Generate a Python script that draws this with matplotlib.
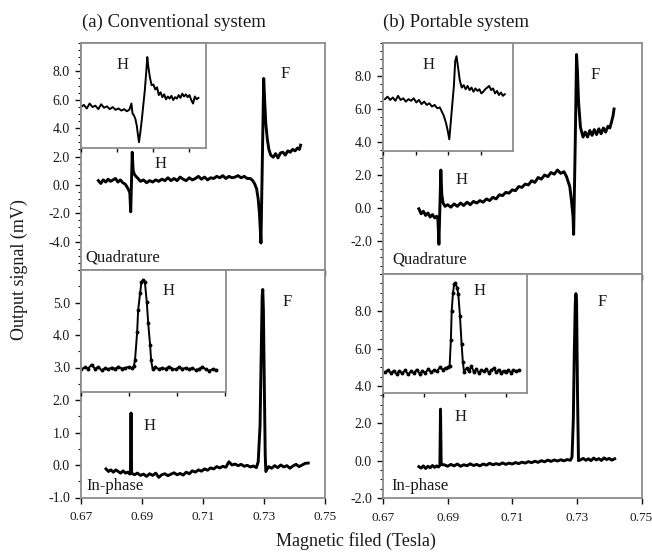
import matplotlib
matplotlib.use("Agg")
import matplotlib.pyplot as plt
from matplotlib.ticker import MultipleLocator, FormatStrFormatter

plt.rcParams['font.family'] = ['Liberation Serif', 'DejaVu Serif']

# ---------------- data ----------------
# (a) conventional, quadrature (main)
qa_x = [0.6757, 0.6765, 0.6773, 0.6781, 0.6789, 0.6797, 0.6805, 0.6813, 0.6821, 0.6829, 0.6837, 0.6845, 0.6851, 0.6856, 0.6860,
        0.6863, 0.6868, 0.6871, 0.6875, 0.6880, 0.6887,
        0.6895, 0.6905, 0.6915, 0.6925, 0.6935, 0.6945, 0.6955, 0.6965, 0.6975, 0.6985, 0.6995, 0.7005, 0.7015, 0.7025, 0.7035,
        0.7045, 0.7055, 0.7065, 0.7075, 0.7085, 0.7095, 0.7105, 0.7115, 0.7125, 0.7135, 0.7145, 0.7155, 0.7165, 0.7175, 0.7185,
        0.7195, 0.7205, 0.7215, 0.7225, 0.7235, 0.7245, 0.7255,
        0.7263, 0.7270, 0.7276, 0.7281, 0.7285, 0.7288, 0.7290, 0.7294, 0.7299, 0.7302, 0.7306, 0.7311, 0.7316, 0.7322,
        0.7330, 0.7338, 0.7346, 0.7354, 0.7362, 0.7370, 0.7378, 0.7386, 0.7394, 0.7402, 0.7410, 0.7416, 0.7420]
qa_y = [0.30, 0.10, 0.35, 0.20, 0.40, 0.25, 0.35, 0.45, 0.20, 0.35, 0.15, 0.05, -0.15, -0.35, -0.55,
        -1.90, 2.30, 1.00, 0.75, 0.60, 0.45,
        0.25, 0.35, 0.15, 0.30, 0.20, 0.35, 0.25, 0.40, 0.30, 0.50, 0.30, 0.45, 0.30, 0.55, 0.40,
        0.30, 0.50, 0.35, 0.45, 0.60, 0.40, 0.55, 0.35, 0.50, 0.45, 0.60, 0.50, 0.65, 0.45, 0.60,
        0.50, 0.55, 0.65, 0.50, 0.60, 0.45, 0.45,
        0.30, 0.05, -0.30, -1.00, -2.00, -3.20, -4.10, 1.00, 7.50, 6.00, 4.30, 3.20, 2.50, 2.10,
        1.95, 2.20, 1.90, 2.25, 2.30, 2.10, 2.40, 2.30, 2.50, 2.40, 2.60, 2.50, 2.80]

# (a) quadrature inset (H line, local field scale)
qa_in_x = [0.0, 0.08, 0.16, 0.24, 0.32, 0.40, 0.48, 0.56, 0.64, 0.72, 0.80, 0.88, 0.96, 1.04, 1.12, 1.20, 1.27, 1.34, 1.40, 1.43,
           1.47, 1.51, 1.55, 1.58, 1.61, 1.65, 1.69, 1.73, 1.77, 1.81, 1.84, 1.87, 1.91, 1.96, 2.01, 2.06, 2.11, 2.16, 2.21, 2.26,
           2.31, 2.36, 2.41, 2.46, 2.51, 2.56, 2.61, 2.66, 2.71, 2.76, 2.81, 2.86, 2.91, 2.96, 3.01, 3.06, 3.11, 3.16, 3.21, 3.26]
qa_in_y = [5.45, 5.60, 5.35, 5.70, 5.45, 5.55, 5.30, 5.65, 5.40, 5.50, 5.30, 5.45, 5.25, 5.35, 5.20, 5.30, 5.15, 5.25, 5.70, 5.00,
           4.85, 4.60, 4.10, 3.50, 2.95, 3.70, 4.60, 5.60, 6.60, 7.90, 9.00, 8.30, 7.60, 7.00, 7.05, 6.70, 6.85, 6.30, 6.50, 6.15,
           6.35, 6.00, 6.20, 6.05, 6.25, 5.95, 6.15, 6.05, 6.30, 6.10, 6.40, 6.20, 6.35, 6.15, 6.30, 5.95, 5.70, 6.20, 6.00, 6.10]

# (a) conventional, in-phase (main)
ia_x = [0.6782, 0.6790, 0.6798, 0.6806, 0.6814, 0.6822, 0.6830, 0.6838, 0.6846, 0.6854, 0.6860,
        0.6862, 0.6864, 0.6866,
        0.6875, 0.6885, 0.6895, 0.6905, 0.6915, 0.6925, 0.6935, 0.6945, 0.6955, 0.6965, 0.6975, 0.6985, 0.6995, 0.7005,
        0.7015, 0.7025, 0.7035, 0.7045, 0.7055, 0.7065, 0.7075, 0.7085, 0.7095, 0.7105, 0.7115, 0.7125, 0.7135, 0.7145,
        0.7155, 0.7165, 0.7175, 0.7185, 0.7195, 0.7205, 0.7215, 0.7225, 0.7235, 0.7245, 0.7255, 0.7265, 0.7275,
        0.7281, 0.7287, 0.7291, 0.7294, 0.7296, 0.7298, 0.7301, 0.7304, 0.7306,
        0.7315, 0.7325, 0.7335, 0.7345, 0.7355, 0.7365, 0.7375, 0.7385, 0.7395, 0.7405, 0.7415, 0.7425, 0.7435, 0.7445]
ia_y = [-0.12, -0.20, -0.15, -0.22, -0.15, -0.20, -0.25, -0.18, -0.25, -0.22, -0.28,
        -0.20, 1.60, -0.25,
        -0.30, -0.25, -0.32, -0.28, -0.35, -0.27, -0.32, -0.25, -0.38, -0.30, -0.27, -0.33, -0.28, -0.24,
        -0.30, -0.26, -0.31, -0.22, -0.27, -0.18, -0.22, -0.15, -0.19, -0.12, -0.16, -0.09, -0.12, -0.05,
        -0.09, -0.04, -0.07, 0.10, 0.00, 0.03, -0.02, 0.02, -0.04, -0.01, -0.06, -0.03, -0.08,
        0.10, 1.20, 3.50, 5.20, 5.40, 4.80, 2.50, 0.30, -0.20,
        -0.05, -0.10, -0.02, -0.08, 0.00, -0.06, -0.02, -0.10, -0.03, 0.02, -0.05, 0.00, 0.05, 0.06]

# (a) in-phase inset
ia_in_x = [0.01, 0.08, 0.15, 0.22, 0.29, 0.36, 0.43, 0.50, 0.57, 0.64, 0.71, 0.78, 0.85, 0.92, 0.99, 1.06, 1.10, 1.125,
           1.17, 1.19, 1.23, 1.26, 1.30, 1.33, 1.37, 1.40, 1.44, 1.46, 1.49, 1.55, 1.62, 1.69, 1.76, 1.83, 1.90, 1.97,
           2.04, 2.11, 2.18, 2.25, 2.32, 2.39, 2.46, 2.53, 2.60, 2.67, 2.74, 2.81]
ia_in_y = [2.95, 3.02, 2.98, 3.10, 2.97, 3.03, 2.92, 2.99, 2.96, 3.01, 2.97, 3.04, 2.98, 3.00, 3.03, 2.99, 3.05, 3.24,
           4.12, 4.79, 5.31, 5.67, 5.72, 5.67, 5.05, 4.38, 3.70, 3.24, 2.98, 3.02, 2.96, 3.00, 2.97, 3.04, 2.98, 2.95,
           3.02, 2.97, 3.00, 2.96, 2.99, 2.93, 2.97, 3.03, 2.95, 2.91, 2.96, 2.94]

# (b) portable, quadrature (main)
qb_x = [0.6811, 0.6818, 0.6825, 0.6832, 0.6839, 0.6846, 0.6853, 0.6860, 0.6866, 0.6870,
        0.6873, 0.6876, 0.6879, 0.6882, 0.6886, 0.6892,
        0.6900, 0.6910, 0.6920, 0.6930, 0.6940, 0.6950, 0.6960, 0.6970, 0.6980, 0.6990, 0.7000, 0.7010, 0.7020,
        0.7030, 0.7040, 0.7050, 0.7060, 0.7070, 0.7080, 0.7090, 0.7100, 0.7110, 0.7120, 0.7130, 0.7140, 0.7150,
        0.7160, 0.7170, 0.7180, 0.7190, 0.7200, 0.7210, 0.7220, 0.7230, 0.7240, 0.7250, 0.7260,
        0.7268, 0.7278, 0.7283, 0.7288, 0.7290, 0.7295, 0.7299, 0.7302, 0.7305, 0.7311, 0.7319,
        0.7326, 0.7333, 0.7340, 0.7347, 0.7354, 0.7361, 0.7368, 0.7375, 0.7382, 0.7389, 0.7396, 0.7402, 0.7407,
        0.7412, 0.7415]
qb_y = [-0.05, -0.35, -0.20, -0.45, -0.30, -0.55, -0.40, -0.60, -0.50, -0.70,
        -2.20, 0.00, 2.30, 0.80, 0.30, 0.10,
        0.20, 0.05, 0.25, 0.10, 0.30, 0.15, 0.35, 0.20, 0.40, 0.30, 0.45, 0.35, 0.55,
        0.45, 0.65, 0.55, 0.80, 0.75, 0.95, 0.90, 1.10, 1.05, 1.30, 1.25, 1.45, 1.40,
        1.65, 1.55, 1.85, 1.75, 2.00, 1.90, 2.15, 2.05, 2.30, 2.10, 2.20,
        1.90, 1.30, 0.50, -0.50, -1.60, 4.00, 9.30, 8.20, 6.50, 4.90, 4.30,
        4.60, 4.30, 4.70, 4.40, 4.75, 4.45, 4.80, 4.50, 4.85, 4.60, 4.95, 4.85, 5.20,
        5.60, 6.00]

# (b) quadrature inset
qb_in_x = [0.06, 0.14, 0.22, 0.30, 0.38, 0.46, 0.54, 0.62, 0.70, 0.78, 0.86, 0.94, 1.02, 1.10, 1.18, 1.26, 1.34, 1.42,
           1.50, 1.58, 1.66, 1.74, 1.80, 1.86, 1.93, 1.98, 2.03, 2.10, 2.17, 2.21, 2.25, 2.30, 2.35, 2.41, 2.47, 2.53,
           2.59, 2.65, 2.71, 2.77, 2.83, 2.89, 2.95, 3.01, 3.07, 3.13, 3.19, 3.25, 3.31, 3.37, 3.43, 3.49, 3.55, 3.61,
           3.67, 3.73]
qb_in_y = [6.60, 6.75, 6.55, 6.70, 6.50, 6.80, 6.55, 6.65, 6.45, 6.60, 6.50, 6.65, 6.40, 6.55, 6.30, 6.45, 6.25, 6.35,
           6.15, 6.25, 6.05, 6.10, 5.85, 5.60, 5.15, 4.70, 4.17, 5.80, 7.40, 8.90, 9.20, 8.50, 7.75, 7.30, 7.45, 7.20,
           7.40, 7.15, 7.30, 7.05, 7.25, 7.10, 7.20, 6.95, 7.05, 7.20, 7.30, 7.40, 7.15, 7.25, 6.95, 7.10, 6.85, 7.00,
           6.80, 6.90]

# (b) portable, in-phase (main)
ib_x = [0.6811, 0.6818, 0.6825, 0.6832, 0.6839, 0.6846, 0.6853, 0.6860, 0.6866, 0.6872,
        0.6876, 0.6878, 0.6880, 0.6883,
        0.6890, 0.6900, 0.6910, 0.6920, 0.6930, 0.6940, 0.6950, 0.6960, 0.6970, 0.6980, 0.6990, 0.7000, 0.7010,
        0.7020, 0.7030, 0.7040, 0.7050, 0.7060, 0.7070, 0.7080, 0.7090, 0.7100, 0.7110, 0.7120, 0.7130, 0.7140,
        0.7150, 0.7160, 0.7170, 0.7180, 0.7190, 0.7200, 0.7210, 0.7220, 0.7230, 0.7240, 0.7250, 0.7260, 0.7270,
        0.7280,
        0.7285, 0.7289, 0.7292, 0.7295, 0.7297, 0.7299, 0.7302, 0.7305,
        0.7312, 0.7320, 0.7328, 0.7336, 0.7344, 0.7352, 0.7360, 0.7368, 0.7376, 0.7384, 0.7392, 0.7400, 0.7408, 0.7417]
ib_y = [-0.32, -0.40, -0.28, -0.42, -0.30, -0.38, -0.26, -0.36, -0.28, -0.34,
        -0.25, 2.76, -0.10, -0.22,
        -0.22, -0.30, -0.20, -0.28, -0.18, -0.30, -0.22, -0.27, -0.17, -0.26, -0.20, -0.28, -0.18,
        -0.24, -0.14, -0.22, -0.16, -0.21, -0.12, -0.20, -0.13, -0.18, -0.10, -0.16, -0.08, -0.13,
        -0.05, -0.11, -0.03, -0.09, 0.00, -0.06, 0.03, -0.04, 0.04, -0.02, 0.05, -0.01, 0.06,
        0.02,
        0.20, 2.20, 5.80, 8.40, 8.95, 8.60, 3.50, 0.00,
        0.05, 0.12, 0.02, 0.10, 0.00, 0.14, 0.04, 0.11, 0.01, 0.15, 0.06, 0.12, 0.03, 0.10]

# (b) in-phase inset
ib_in_x = [0.05, 0.12, 0.19, 0.26, 0.33, 0.40, 0.47, 0.54, 0.61, 0.68, 0.75, 0.82, 0.89, 0.96, 1.03, 1.10, 1.17, 1.24,
           1.31, 1.38, 1.45, 1.52, 1.58, 1.62, 1.65, 1.67, 1.70, 1.73, 1.76, 1.80, 1.83, 1.87, 1.91, 1.94, 1.97, 2.03,
           2.09, 2.15, 2.21, 2.27, 2.33, 2.39, 2.45, 2.51, 2.57, 2.63, 2.69, 2.75, 2.81, 2.87, 2.93, 2.99, 3.05, 3.11,
           3.17, 3.23, 3.30]
ib_in_y = [4.75, 4.85, 4.70, 4.82, 4.65, 4.80, 4.68, 4.85, 4.62, 4.78, 4.70, 4.88, 4.66, 4.80, 4.72, 4.90, 4.74, 4.85,
           4.78, 5.00, 4.88, 4.98, 5.00, 5.10, 6.50, 8.06, 9.00, 9.49, 9.57, 9.30, 8.95, 7.80, 6.28, 5.30, 4.76, 4.95,
           4.80, 5.05, 4.75, 4.90, 4.70, 4.85, 4.78, 4.92, 4.72, 4.85, 4.95, 4.75, 4.88, 4.70, 4.82, 4.75, 4.86, 4.72,
           4.84, 4.78, 4.85]

field_ticks = [0.67, 0.69, 0.71, 0.73, 0.75]
qa_yticks = [-4, -2, 0, 2, 4, 6, 8]
ia_yticks = [-1, 0, 1, 2, 3, 4, 5]
qb_yticks = [-2, 0, 2, 4, 6, 8]
ib_yticks = [-2, 0, 2, 4, 6, 8]
titles = ["(a) Conventional system", "(b) Portable system"]
mode_labels = ["Quadrature", "In-phase"]

for nm, a, b in [("qa", qa_x, qa_y), ("qa_in", qa_in_x, qa_in_y), ("ia", ia_x, ia_y), ("ia_in", ia_in_x, ia_in_y),
                 ("qb", qb_x, qb_y), ("qb_in", qb_in_x, qb_in_y), ("ib", ib_x, ib_y), ("ib_in", ib_in_x, ib_in_y)]:
    assert len(a) == len(b), (nm, len(a), len(b))

# ---------------- figure ----------------
W, H = 652, 554
fig = plt.figure(figsize=(W / 100, H / 100), dpi=100)

SPINE = '#8c8c8c'
TXT = '#1a1a1a'


def rect(x0, y0, x1, y1):
    return [x0 / W, 1 - y1 / H, (x1 - x0) / W, (y1 - y0) / H]


def style_main(ax, ylim, yticks, show_x):
    ax.set_xlim(0.67, 0.75)
    ax.set_ylim(*ylim)
    ax.set_xticks(field_ticks)
    ax.set_yticks(yticks)
    ax.yaxis.set_minor_locator(MultipleLocator(0.5))
    ax.yaxis.set_major_formatter(FormatStrFormatter('%.1f'))
    ax.xaxis.set_major_formatter(FormatStrFormatter('%.2f'))
    for s in ax.spines.values():
        s.set_color(SPINE)
        s.set_linewidth(1.3)
    ax.tick_params(axis='both', which='major', direction='out', length=4, width=1.0,
                   color='#111111', labelcolor=TXT)
    ax.tick_params(axis='y', which='major', labelsize=10, pad=4)
    ax.tick_params(axis='x', which='major', labelsize=9.5, pad=6, labelbottom=show_x)
    ax.tick_params(axis='y', which='minor', direction='out', length=2, width=0.8, color='#111111')
    ax.tick_params(axis='x', which='minor', bottom=False)
    ax.tick_params(top=False, right=False)


def style_inset(ax, xlim, ylim, nt):
    ax.set_xlim(*xlim)
    ax.set_ylim(*ylim)
    ax.set_xticks(list(range(nt)))
    ax.set_yticks([])
    ax.tick_params(axis='x', direction='out', length=3, width=1.0, color='#111111', labelbottom=False)
    for s in ax.spines.values():
        s.set_color(SPINE)
        s.set_linewidth(1.3)
    ax.set_facecolor('white')


# main axes (pixel boxes)
ax_qa = fig.add_axes(rect(81, 43, 325, 270))
ax_ia = fig.add_axes(rect(81, 270, 325, 497.5))
ax_qb = fig.add_axes(rect(383, 43, 641.5, 274))
ax_ib = fig.add_axes(rect(383, 274, 641.5, 498))

LW = 2.1
for ax, xs, ys in [(ax_qa, qa_x, qa_y), (ax_ia, ia_x, ia_y), (ax_qb, qb_x, qb_y), (ax_ib, ib_x, ib_y)]:
    ax.plot(xs, ys, color='black', lw=LW, solid_joinstyle='round')

style_main(ax_qa, (-6, 10), qa_yticks, False)
style_main(ax_ia, (-1, 6), ia_yticks, True)
style_main(ax_qb, (-4, 10), qb_yticks, False)
style_main(ax_ib, (-2, 10), ib_yticks, True)

# insets
in_qa = fig.add_axes(rect(81, 43, 206, 148))
in_ia = fig.add_axes(rect(81, 270, 226, 392))
in_qb = fig.add_axes(rect(383, 43, 513, 151))
in_ib = fig.add_axes(rect(383, 274, 527, 393))

in_qa.plot(qa_in_x, qa_in_y, color='black', lw=1.4)
in_ia.plot(ia_in_x, ia_in_y, color='black', lw=1.4, marker='o', ms=1.8)
in_qb.plot(qb_in_x, qb_in_y, color='black', lw=1.4)
in_ib.plot(ib_in_x, ib_in_y, color='black', lw=1.4, marker='o', ms=1.8)

style_inset(in_qa, (0, 3.47), (2.54, 10.0), 4)
style_inset(in_ia, (0, 3.02), (2.25, 6.04), 4)
style_inset(in_qb, (0, 3.98), (3.46, 10.0), 4)
style_inset(in_ib, (0, 3.50), (3.62, 10.04), 4)


def ftext(x, y, s, size=12, ha='center', va='center', **kw):
    fig.text(x / W, 1 - y / H, s, fontsize=size, ha=ha, va=va, color=TXT, **kw)


# peak labels
ftext(122.7, 65, "H")
ftext(285, 74, "F")
ftext(161, 164, "H")
ftext(169, 291, "H")
ftext(287, 302, "F")
ftext(150, 426, "H")
ftext(429, 65, "H")
ftext(595, 75, "F")
ftext(462, 180, "H")
ftext(480, 291, "H")
ftext(602, 302, "F")
ftext(461, 417, "H")

ftext(85, 258, mode_labels[0], ha='left')
ftext(86, 486, mode_labels[1], ha='left')
ftext(392, 260, mode_labels[0], ha='left')
ftext(391, 486, mode_labels[1], ha='left')

ftext(82, 22, titles[0], size=13.5, ha='left')
ftext(383, 22, titles[1], size=13.5, ha='left')

ftext(19, 270, "Output signal (mV)", size=13, rotation=90)
ftext(356, 541, "Magnetic filed (Tesla)", size=13)

fig.savefig("out.png", dpi=100)
